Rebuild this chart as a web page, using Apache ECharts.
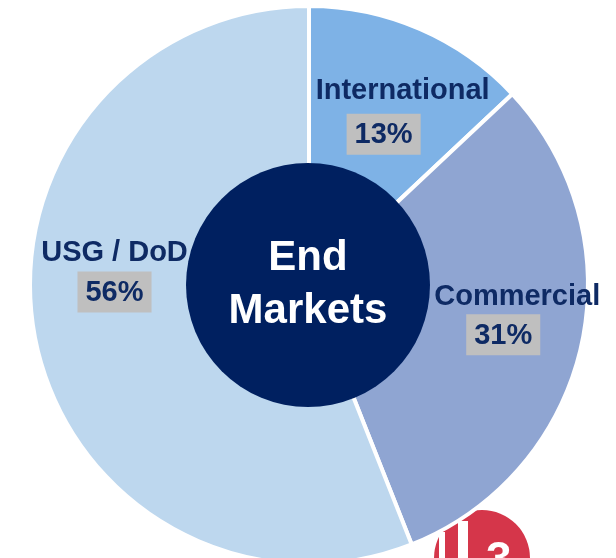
<!DOCTYPE html>
<html><head><meta charset="utf-8">
<script src="https://cdn.jsdelivr.net/npm/echarts@6/dist/echarts.min.js"></script>
<style>html,body{margin:0;padding:0;background:#fff}#c{width:616px;height:558px}</style>
</head><body><div id="c"></div>
<script>
var categories = ['International', 'Commercial', 'USG / DoD'];
var values = [13, 31, 56];
var centerTitle = ['End', 'Markets'];
var colors = ['#7EB2E6', '#8FA5D2', '#BDD7EE'];

// label placement tweaks (layout only)
var labelOffsets = [[15, 8], [15, -11], [0, -49]];
var boxShift = [38, 28, 0];
var nameLineHeights = [46, 35, 38];

var chart = echarts.init(document.getElementById('c'), null, {renderer: 'canvas'});
var font = 'Liberation Sans, Arial, sans-serif';
var txt = '#0E2A64';
var rich = {
  p: {fontFamily: font, fontWeight: 'bold', fontSize: 29, color: txt, backgroundColor: '#BFBFBF', padding: [7, 8, 5, 8], align: 'center'}
};
nameLineHeights.forEach(function (lh, i) {
  rich['n' + i] = {fontFamily: font, fontWeight: 'bold', fontSize: 29, color: txt, lineHeight: lh, align: 'center'};
  rich['s' + i] = {width: boxShift[i], height: 1};
});
var option = {
  animation: false,
  series: [
    {
      type: 'pie',
      center: [309, 285],
      radius: [111, 279],
      startAngle: 90,
      clockwise: true,
      silent: true,
      itemStyle: {borderColor: '#fff', borderWidth: 4},
      label: {
        show: true,
        position: 'inside',
        formatter: function (p) {
          var i = p.dataIndex;
          return '{n' + i + '|' + p.name + '}\n{p|' + p.value + '%}' + (boxShift[i] ? '{s' + i + '|}' : '');
        },
        rich: rich
      },
      labelLine: {show: false},
      data: categories.map(function (c, i) {
        return {name: c, value: values[i], itemStyle: {color: colors[i]}, label: {offset: labelOffsets[i]}};
      })
    },
    {
      type: 'pie',
      center: [308, 285],
      radius: [0, 122],
      silent: true,
      label: {
        show: true,
        position: 'center',
        formatter: centerTitle.join('\n'),
        fontFamily: font, fontWeight: 'bold', fontSize: 42, color: '#fff', lineHeight: 53
      },
      labelLine: {show: false},
      itemStyle: {color: '#002060'},
      data: [{name: 'center', value: 1}]
    }
  ],
  graphic: [
    {type: 'circle', shape: {cx: 482, cy: 558, r: 48}, style: {fill: '#D5364A'}, silent: true},
    {type: 'rect', shape: {x: 458, y: 521, width: 10, height: 40}, style: {fill: '#fff'}, silent: true},
    {type: 'rect', shape: {x: 439, y: 532, width: 6, height: 30}, style: {fill: '#fff'}, silent: true},
    {type: 'text', x: 486, y: 538, style: {text: '3', fill: '#fff', font: 'bold 46px Liberation Sans, Arial, sans-serif', verticalAlign: 'top'}, silent: true}
  ]
};
chart.setOption(option);
</script></body></html>
